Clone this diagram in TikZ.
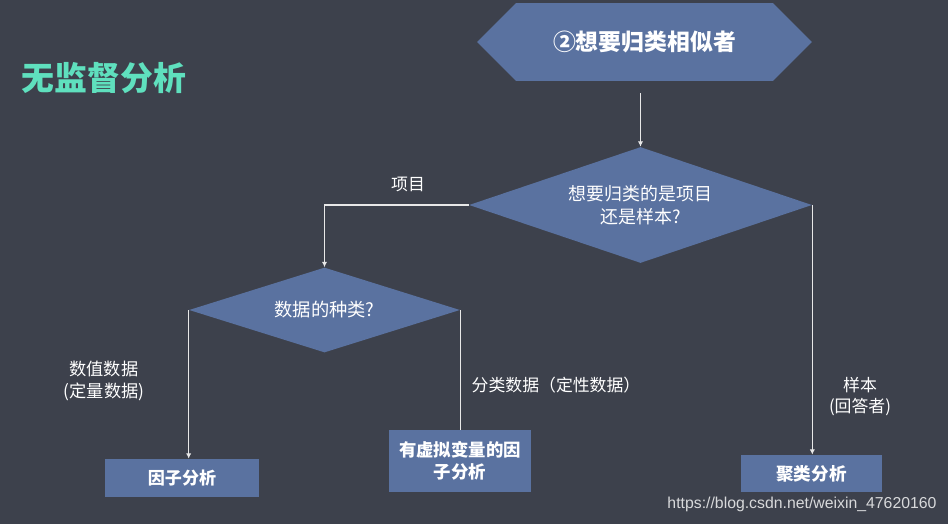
\documentclass[tikz,border=0pt]{standalone}
\usepackage{fontspec}
\setmainfont{Noto Sans CJK SC}
\newfontfamily\urlfont{Liberation Sans}
\usetikzlibrary{shapes.geometric,shapes.symbols,arrows.meta}

\definecolor{bg}{HTML}{3D414C}
\definecolor{boxblue}{HTML}{5A72A0}
\definecolor{titlegreen}{HTML}{5FE0BE}
\definecolor{wirecol}{HTML}{E8E8E8}
\newcommand{\fsz}[1]{\fontsize{#1}{1.25\dimexpr#1pt\relax}\selectfont}

\tikzset{
  blk/.style={fill=boxblue, text=white, inner sep=0pt, align=center},
  ques/.style={diamond, aspect=3, fill=boxblue, text=white, inner sep=0pt, align=center},
  lbl/.style={text=white, inner sep=0pt, align=center},
  wire/.style={draw=wirecol, line width=0.6pt},
  arr/.style={wire, -{Latex[length=3pt,width=3pt]}},
}

\begin{document}
\begin{tikzpicture}[x=0.02cm, y=-0.02cm]
  \fill[bg] (0,0) rectangle (948,524);
  \useasboundingbox (0,0) rectangle (948,524);

  \node[text=titlegreen, font=\fsz{18.7}\bfseries] (title) at (104,78) {无监督分析};

  % start and questions
  \node[blk, signal, signal to=west and east, signal pointer angle=90,
        minimum width=6.7cm, minimum height=1.56cm, font=\fsz{13}\bfseries] (goal) at (644.5,42) {②想要归类相似者};
  \node[ques, minimum width=6.86cm, minimum height=2.32cm, font=\fsz{10.2}] (kind) at (640.5,205) {想要归类的是项目\\还是样本?};
  \node[ques, minimum width=5.42cm, minimum height=1.7cm, font=\fsz{10.4}] (data) at (324.5,310) {数据的种类?};

  % methods
  \node[blk, minimum width=3.08cm, minimum height=0.76cm, font=\fsz{9.7}\bfseries] (fa) at (182,478) {因子分析};
  \node[blk, minimum width=2.84cm, minimum height=1.24cm, font=\fsz{9.9}\bfseries] (dfa) at (460,461) {有虚拟变量的因\\子分析};
  \node[blk, minimum width=2.82cm, minimum height=0.74cm, font=\fsz{10}\bfseries] (ca) at (811.5,473.5) {聚类分析};

  \draw[arr, shorten <=0.24cm] (kind.north |- goal.south) -- (kind.north);
  \draw[arr] (kind.west) -| (data.north);
  \draw[arr] (kind.east) -- (kind.east |- ca.north);
  \draw[arr] (data.west) -- (data.west |- fa.north);
  \draw[wire] (data.east) -- (data.east |- dfa.north);

  \node[lbl, font=\fsz{9.6}] (items) at (408,184) {项目};
  \node[lbl, font=\fsz{9.8}] (num) at (104,381) {数值数据\\(定量数据)};
  \node[lbl, font=\fsz{9.6}] (cat) at (556,385) {分类数据（定性数据）};
  \node[lbl, font=\fsz{9.6}] (smp) at (860,397) {样本\\(回答者)};

  \node[text=white!80!bg, inner sep=0pt, font=\urlfont\fsz{9}] (url) at (802,504) {https://blog.csdn.net/weixin\_47620160};
\end{tikzpicture}
\end{document}
